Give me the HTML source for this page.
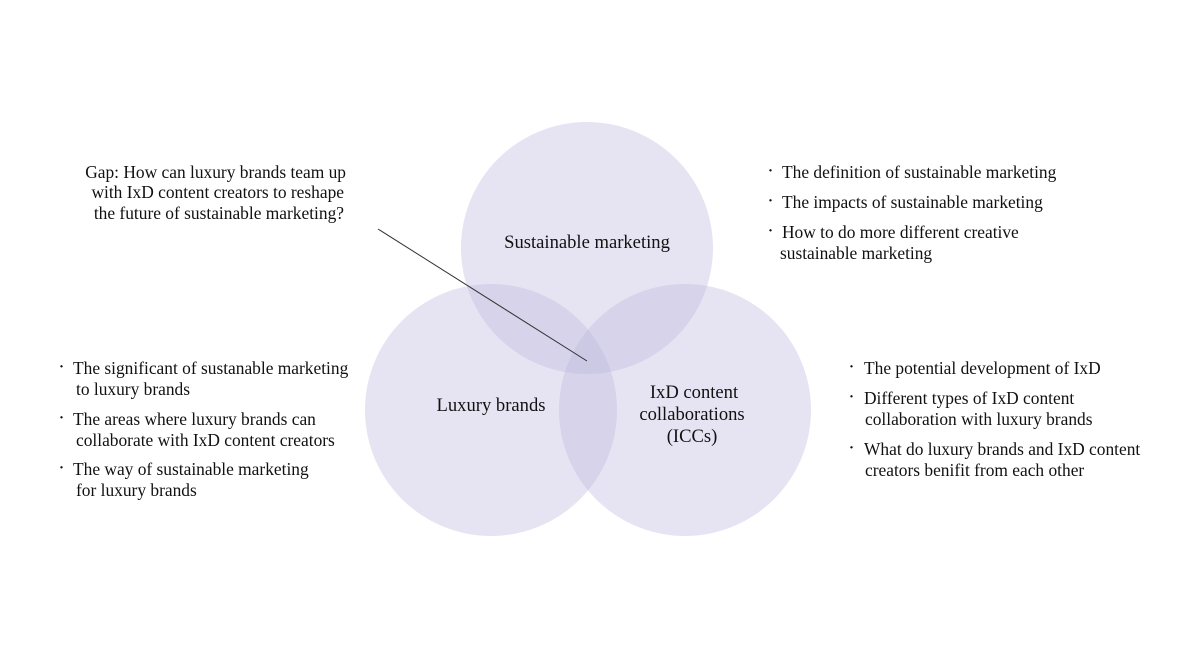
<!DOCTYPE html>
<html><head><meta charset="utf-8"><style>
html,body{margin:0;padding:0;background:#fff;}
svg{display:block;}
text{font-family:"Liberation Serif",serif;font-size:17.4px;fill:#111;}
.c{font-size:18.6px;}
.b{font-size:15px;font-weight:bold;}
</style></head><body>
<svg width="1194" height="672" viewBox="0 0 1194 672">
<g fill="rgb(190,185,220)" fill-opacity="0.38">
<circle cx="587" cy="248" r="126"/>
<circle cx="491" cy="410" r="126"/>
<circle cx="685" cy="410" r="126"/>
</g>
<line x1="378" y1="229" x2="587" y2="361" stroke="#333" stroke-width="1"/>
<text class="c" x="587" y="248" text-anchor="middle">Sustainable marketing</text>
<text class="c" x="491" y="411" text-anchor="middle">Luxury brands</text>
<text class="c" x="694" y="398" text-anchor="middle">IxD content</text>
<text class="c" x="692" y="420" text-anchor="middle">collaborations</text>
<text class="c" x="692" y="442" text-anchor="middle">(ICCs)</text>
<text x="346" y="178" text-anchor="end">Gap: How can luxury brands team up</text>
<text x="344" y="198" text-anchor="end">with IxD content creators to reshape</text>
<text x="344" y="219" text-anchor="end">the future of sustainable marketing?</text>
<text class="b" x="768" y="175">·</text><text x="782" y="178">The definition of sustainable marketing</text>
<text class="b" x="768" y="205">·</text><text x="782" y="208">The impacts of sustainable marketing</text>
<text class="b" x="768" y="235">·</text><text x="782" y="238">How to do more different creative</text>
<text x="780" y="259">sustainable marketing</text>
<text class="b" x="59" y="371">·</text><text x="73" y="374">The significant of sustanable marketing</text>
<text x="76" y="395">to luxury brands</text>
<text class="b" x="59" y="422">·</text><text x="73" y="425">The areas where luxury brands can</text>
<text x="76" y="446">collaborate with IxD content creators</text>
<text class="b" x="59" y="472">·</text><text x="73" y="475">The way of sustainable marketing</text>
<text x="76" y="496">for luxury brands</text>
<text class="b" x="849" y="371">·</text><text x="864" y="374">The potential development of IxD</text>
<text class="b" x="849" y="401">·</text><text x="864" y="404">Different types of  IxD content</text>
<text x="865" y="425">collaboration with luxury brands</text>
<text class="b" x="849" y="452">·</text><text x="864" y="455">What do luxury brands and IxD content</text>
<text x="865" y="476">creators benifit from each other</text>
</svg>
</body></html>
